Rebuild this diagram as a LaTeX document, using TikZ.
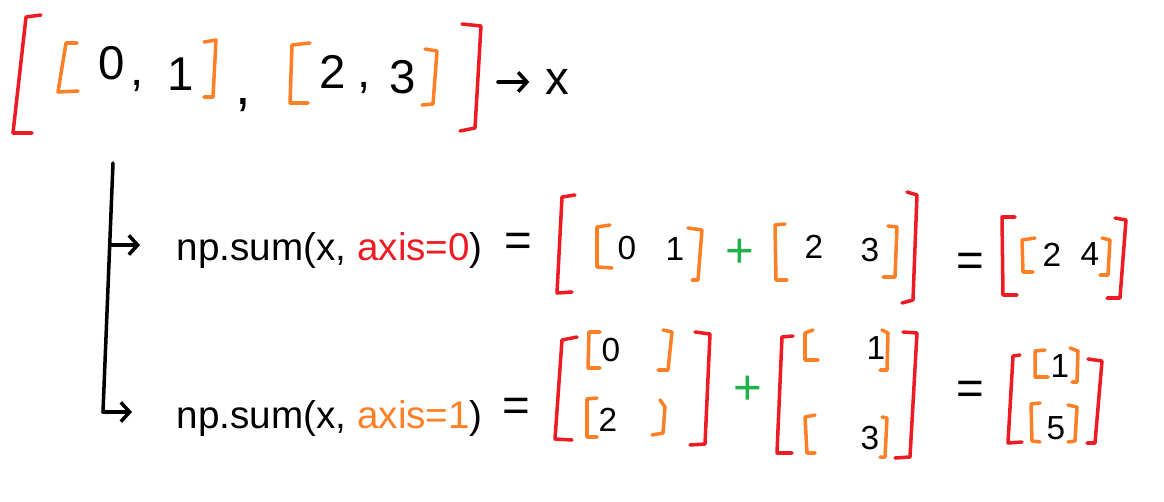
\documentclass[tikz,border=0pt]{standalone}
\usepackage{fontspec}
\setmainfont{Liberation Sans}
\usetikzlibrary{arrows.meta}
\definecolor{pred}{HTML}{ED1C24}
\definecolor{porange}{HTML}{FF7F27}
\definecolor{pgreen}{HTML}{22B14C}
\begin{document}
\begin{tikzpicture}[x=0.02cm,y=-0.02cm,line width=2pt,line cap=round,line join=round,
	outer/.style={draw=pred},
	inner/.style={draw=porange},
	big/.style={inner sep=0pt,font=\fontsize{27}{30}\selectfont},
	num/.style={inner sep=0pt,font=\fontsize{19}{22}\selectfont},
	code/.style={inner sep=0pt,anchor=base west,font=\fontsize{22}{26}\selectfont},
	barb/.style={-{Straight Barb[length=5pt,width=11pt]}}]
	\useasboundingbox (0,0) rectangle (1164,501);

	% the list x
	\draw[outer] (41,15) -- (26,17) -- (13,133) -- (32,133);
	\draw[inner] (77,43) -- (66,43) -- (58,92) -- (78,91);
	\node[big] (t0) at (112,63) {0};
	\node[big,anchor=base] (tc1) at (137,85) {,};
	\node[big] (t1) at (181,74) {1};
	\draw[inner] (204,42) -- (216,40) -- (213,97) -- (204,97);
	\node[big,anchor=base,font=\fontsize{32}{34}\selectfont] (tc2) at (243,104) {,};
	\draw[inner] (310,43) -- (292,45) -- (290,103) -- (308,103);
	\node[big] (t2) at (333,72) {2};
	\node[big,anchor=base] (tc3) at (364,87) {,};
	\node[big] (t3) at (403,77) {3};
	\draw[inner] (425,49) -- (437,51) -- (433,104) -- (422,105);
	\draw[outer] (462,24) -- (481,26) -- (475,128) -- (460,131);
	\coordinate (xfrom) at (498,82);
	\node[big] (tx) at (557,82) {x};
	\draw[barb,shorten >=8pt] (xfrom) -- (tx);

	% branches
	\coordinate (trunk) at (113,163);
	\coordinate (bend) at (103,412);
	\coordinate (fork) at (111,245);
	\coordinate (tip0) at (140,245);
	\coordinate (tip1) at (132,412);
	\draw (trunk) -- (bend);
	\draw[barb] (bend) -- (tip1);
	\draw[barb] (fork) -- (tip0);

	% axis=0
	\node[code] (sum0) at (175,260) {np.sum(x, \textcolor{pred}{axis=0})};
	\node[big] (eq0) at (518,245) {=};
	\draw[outer] (575,195) -- (562,197) -- (557,293) -- (572,292);
	\draw[inner] (610,225) -- (597,227) -- (597,267) -- (612,268);
	\node[num] (a0) at (627,248) {0};
	\node[num] (a1) at (675,249) {1};
	\draw[inner] (688,228) -- (702,230) -- (698,280) -- (692,280);
	\node[big,text=pgreen,font=\fontsize{28}{30}\selectfont] (plus0) at (740,253) {+};
	\draw[inner] (785,224) -- (775,225) -- (776,280) -- (787,280);
	\node[num] (a2) at (814,247) {2};
	\node[num] (a3) at (870,250) {3};
	\draw[inner] (888,226) -- (897,227) -- (895,277) -- (883,277);
	\draw[outer] (907,192) -- (917,195) -- (913,300) -- (902,303);
	\node[big] (eq1) at (970,265) {=};
	\draw[outer] (1015,217) -- (1002,217) -- (1003,295) -- (1017,295);
	\draw[inner] (1035,238) -- (1022,240) -- (1023,272) -- (1033,272);
	\node[num] (r0) at (1052,255) {2};
	\node[num] (r1) at (1090,254) {4};
	\draw[inner] (1102,238) -- (1110,240) -- (1108,275) -- (1100,275);
	\draw[outer] (1115,218) -- (1126,220) -- (1120,298) -- (1107,298);

	% axis=1
	\node[code] (sum1) at (175,428) {np.sum(x, \textcolor{porange}{axis=1})};
	\node[big] (eq2) at (516,410) {=};
	\draw[outer] (577,337) -- (562,340) -- (555,439) -- (572,440);
	\draw[inner] (600,332) -- (589,332) -- (588,368) -- (600,368);
	\node[num] (b0) at (611,350) {0};
	\draw[inner] (663,330) -- (672,332) -- (668,370) -- (658,370);
	\draw[inner] (597,398) -- (587,399) -- (587,437) -- (597,437);
	\node[num] (b2) at (608,420) {2};
	\draw[inner] (660,400) -- (665,407) -- (663,433) -- (652,435);
	\draw[outer] (695,332) -- (710,334) -- (705,444) -- (690,445);
	\node[big,text=pgreen,font=\fontsize{28}{30}\selectfont] (plus1) at (748,390) {+};
	\draw[outer] (793,336) -- (782,337) -- (777,453) -- (792,453);
	\draw[inner] (813,330) -- (805,333) -- (805,360) -- (818,360);
	\node[num] (b1) at (876,348) {1};
	\draw[inner] (882,330) -- (888,333) -- (887,370) -- (880,370);
	\draw[inner] (815,415) -- (805,417) -- (807,453) -- (815,453);
	\node[num] (b3) at (870,438) {3};
	\draw[inner] (882,417) -- (887,418) -- (885,457) -- (880,457);
	\draw[outer] (903,332) -- (917,333) -- (910,457) -- (895,458);
	\node[big] (eq3) at (970,393) {=};
	\draw[outer] (1020,355) -- (1013,356) -- (1008,443) -- (1022,442);
	\draw[inner] (1045,350) -- (1035,351) -- (1035,377) -- (1048,377);
	\node[num] (c0) at (1060,366) {1};
	\draw[inner] (1070,348) -- (1078,351) -- (1077,382) -- (1072,382);
	\draw[inner] (1040,403) -- (1031,404) -- (1032,441) -- (1040,442);
	\node[num] (c1) at (1056,428) {5};
	\draw[inner] (1068,405) -- (1077,407) -- (1075,441) -- (1068,442);
	\draw[outer] (1088,359) -- (1102,361) -- (1095,443) -- (1087,443);
\end{tikzpicture}
\end{document}
